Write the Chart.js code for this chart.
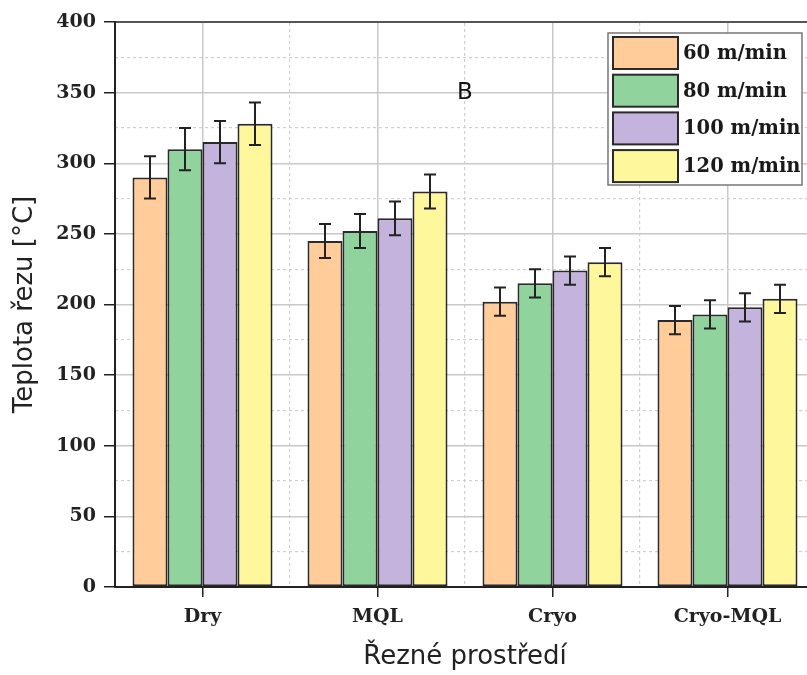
<!DOCTYPE html>
<html>
<head>
<meta charset="utf-8">
<script src="https://cdn.jsdelivr.net/npm/chart.js@4"></script>
<style>
  html, body { margin: 0; padding: 0; background: #fff; overflow: hidden; }
  #wrap { width: 807px; height: 675px; overflow: hidden; }
</style>
</head>
<body>
<div id="wrap"><canvas id="tempChart" width="830" height="675"></canvas></div>
<script>
// Data
const categories = ['Dry', 'MQL', 'Cryo', 'Cryo-MQL'];
const speedLabels = ['60 m/min', '80 m/min', '100 m/min', '120 m/min'];
const temp60 = [290, 245, 202, 189];
const temp80 = [310, 252, 215, 193];
const temp100 = [315, 261, 224, 198];
const temp120 = [328, 280, 230, 204];
const tempError = [15, 12, 10, 10];
const yTicks = [0, 50, 100, 150, 200, 250, 300, 350, 400];

const barColors = ['#ffcc9a', '#90d39c', '#c4b3dd', '#fff79b'];
const serifFont = "'DejaVu Serif', serif";
const sansFont = "'DejaVu Sans', sans-serif";

// Error bars drawn on top of the bars
const errorBarPlugin = {
    id: 'errorBars',
    afterDatasetsDraw(chart) {
        const ctx = chart.ctx;
        const yScale = chart.scales.y;
        ctx.save();
        ctx.strokeStyle = '#222';
        ctx.lineWidth = 2;
        chart.data.datasets.forEach((ds, i) => {
            const meta = chart.getDatasetMeta(i);
            meta.data.forEach((bar, j) => {
                const err = tempError[j];
                const top = yScale.getPixelForValue(ds.data[j] + err);
                const bottom = yScale.getPixelForValue(ds.data[j] - err);
                ctx.beginPath();
                ctx.moveTo(bar.x, top);
                ctx.lineTo(bar.x, bottom);
                ctx.moveTo(bar.x - 6, top);
                ctx.lineTo(bar.x + 6, top);
                ctx.moveTo(bar.x - 6, bottom);
                ctx.lineTo(bar.x + 6, bottom);
                ctx.stroke();
            });
        });
        ctx.restore();
    }
};

// Panel letter and boxed legend inside the plot
const panelPlugin = {
    id: 'panelAndLegend',
    afterDraw(chart) {
        const ctx = chart.ctx;
        const area = chart.chartArea;
        const yScale = chart.scales.y;
        ctx.save();
        ctx.fillStyle = '#111';
        ctx.font = '23px ' + sansFont;
        ctx.textAlign = 'center';
        ctx.textBaseline = 'middle';
        ctx.fillText('B', (area.left + area.right) / 2, yScale.getPixelForValue(350));

        // legend
        const boxX = area.right - 207;
        const boxY = area.top + 11;
        ctx.fillStyle = '#fff';
        ctx.fillRect(boxX, boxY, 194, 152);
        ctx.strokeStyle = '#777';
        ctx.lineWidth = 1.5;
        ctx.strokeRect(boxX, boxY, 194, 152);
        ctx.font = 'bold 19.5px ' + serifFont;
        ctx.textAlign = 'left';
        chart.data.datasets.forEach((ds, i) => {
            const y = boxY + 4 + i * 37.7;
            ctx.fillStyle = ds.backgroundColor;
            ctx.fillRect(boxX + 5, y, 65, 32);
            ctx.lineWidth = 2;
            ctx.strokeStyle = '#2a2a2a';
            ctx.strokeRect(boxX + 5, y, 65, 32);
            ctx.fillStyle = '#1a1a1a';
            ctx.fillText(ds.label, boxX + 75, y + 17);
        });
        ctx.restore();
    }
};

const datasets = [temp60, temp80, temp100, temp120].map((values, i) => ({
    label: speedLabels[i],
    data: values,
    backgroundColor: barColors[i],
    borderColor: '#2a2a2a',
    borderWidth: 2,
    borderSkipped: false,
    categoryPercentage: 0.8,
    barPercentage: 1.0
}));

new Chart(document.getElementById('tempChart').getContext('2d'), {
    type: 'bar',
    data: { labels: categories, datasets: datasets },
    plugins: [errorBarPlugin, panelPlugin],
    options: {
        responsive: false,
        animation: false,
        layout: { padding: { left: 0, right: 15, top: 22, bottom: 0 } },
        plugins: {
            legend: { display: false },
            tooltip: { enabled: false }
        },
        scales: {
            x: {
                position: 'bottom',
                grid: {
                    offset: false,
                    color: '#c8c8c8',
                    lineWidth: 1.5,
                    tickColor: '#222',
                    tickLength: 10,
                    tickWidth: 1.5
                },
                border: { color: '#222', width: 2 },
                ticks: {
                    color: '#222',
                    padding: 9,
                    font: { family: serifFont, size: 19, weight: 'bold' }
                },
                title: {
                    display: true,
                    text: 'Řezné prostředí',
                    color: '#222',
                    padding: { top: 0, bottom: 2 },
                    font: { family: sansFont, size: 26 }
                },
                afterFit(scale) { scale.height = 88; }
            },
            xTop: {
                position: 'top',
                type: 'category',
                labels: categories,
                offset: true,
                grid: {
                    offset: true,
                    color: '#cfcfcf',
                    lineWidth: 1.2,
                    drawTicks: false
                },
                border: { color: '#555', width: 2, dash: [3, 3] },
                ticks: { display: false },
                afterFit(scale) { scale.height = 0; }
            },
            y: {
                position: 'left',
                min: 0,
                max: 400,
                afterBuildTicks(scale) { scale.ticks = yTicks.map(v => ({ value: v })); },
                grid: {
                    color: '#c8c8c8',
                    lineWidth: 1.5,
                    tickColor: '#222',
                    tickLength: 11,
                    tickWidth: 1.5
                },
                border: { color: '#222', width: 2 },
                ticks: {
                    color: '#222',
                    padding: 8,
                    font: { family: serifFont, size: 19, weight: 'bold' }
                },
                title: {
                    display: true,
                    text: 'Teplota řezu [°C]',
                    color: '#222',
                    padding: { top: 10, bottom: 0 },
                    font: { family: sansFont, size: 26 }
                },
                afterFit(scale) { scale.width = 115; }
            },
            yMinor: {
                position: 'left',
                min: 0,
                max: 400,
                ticks: { display: false, stepSize: 25 },
                grid: {
                    drawTicks: false,
                    lineWidth: 1.2,
                    color: ctx => (ctx.tick && ctx.tick.value % 50 === 0) ? 'rgba(0,0,0,0)' : '#cfcfcf'
                },
                border: { display: false, dash: [3, 3] },
                afterFit(scale) { scale.width = 0; }
            }
        }
    }
});
</script>
</body>
</html>
